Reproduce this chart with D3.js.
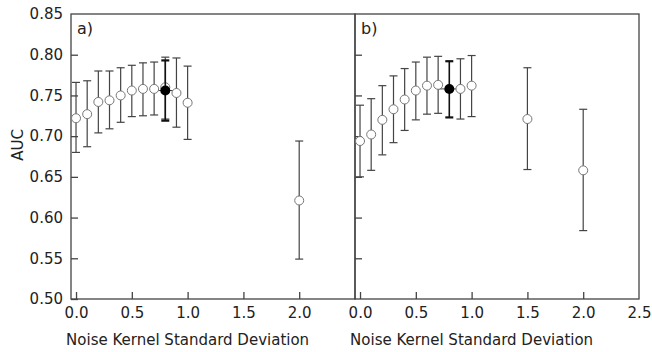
<!DOCTYPE html>
<html>
<head>
<meta charset="utf-8">
<script src="https://cdn.jsdelivr.net/npm/d3@7"></script>
<style>
  body { margin: 0; background: #fff; }
  text { font-family: "DejaVu Sans", sans-serif; fill: #222; }
</style>
</head>
<body>
<div id="chart"></div>
<script>
'use strict';

// panel a) open symbols
var sigmaA = [0.0, 0.1, 0.2, 0.3, 0.4, 0.5, 0.6, 0.7, 0.8, 0.9, 1.0, 2.0];
var aucA   = [0.722, 0.727, 0.742, 0.744, 0.750, 0.756, 0.758, 0.758, 0.760, 0.753, 0.741, 0.621];
var lowA   = [0.680, 0.687, 0.704, 0.709, 0.717, 0.724, 0.725, 0.726, 0.721, 0.711, 0.696, 0.549];
var highA  = [0.766, 0.768, 0.780, 0.780, 0.784, 0.787, 0.790, 0.791, 0.797, 0.796, 0.786, 0.694];

// panel b) open symbols
var sigmaB = [0.0, 0.1, 0.2, 0.3, 0.4, 0.5, 0.6, 0.7, 0.9, 1.0, 1.5, 2.0];
var aucB   = [0.694, 0.702, 0.720, 0.733, 0.745, 0.756, 0.762, 0.763, 0.758, 0.762, 0.721, 0.658];
var lowB   = [0.650, 0.658, 0.677, 0.692, 0.707, 0.720, 0.727, 0.728, 0.721, 0.724, 0.659, 0.584];
var highB  = [0.738, 0.746, 0.762, 0.774, 0.783, 0.791, 0.797, 0.798, 0.795, 0.799, 0.784, 0.733];

// best setting (filled symbol) in each panel
var bestSigma = [0.8, 0.8];
var bestAuc   = [0.756, 0.758];
var bestLow   = [0.719, 0.723];
var bestHigh  = [0.793, 0.792];

var panelLabels = ['a)', 'b)'];
var xTicks = [0, 0.5, 1, 1.5, 2, 2.5];
var yTicks = [0.50, 0.55, 0.60, 0.65, 0.70, 0.75, 0.80, 0.85];

var W = 652, H = 352
  , plotTop = 14, plotBottom = 299
  , panelLeft = [71, 355]
  , panelWidth = 284
  , capW = 4                 // half width of error bar caps
  , tickLen = 7;

var svg = d3.select('#chart').append('svg')
    .attr('width', W)
    .attr('height', H);

var y = d3.scaleLinear().domain([0.50, 0.85]).range([plotBottom, plotTop]);

var panels = [
  { sigma: sigmaA, auc: aucA, low: lowA, high: highA },
  { sigma: sigmaB, auc: aucB, low: lowB, high: highB }
];

panels.forEach(function (p, k) {
  var x = d3.scaleLinear().domain([-0.045, 2.5]).range([panelLeft[k], panelLeft[k] + panelWidth]);
  var g = svg.append('g');

  // frame
  g.append('rect')
    .attr('x', panelLeft[k]).attr('y', plotTop)
    .attr('width', panelWidth).attr('height', plotBottom - plotTop)
    .attr('fill', 'none').attr('stroke', '#444').attr('stroke-width', 1.3);

  // inward ticks, labels only where needed
  var xa = g.append('g')
      .attr('transform', 'translate(0,' + plotBottom + ')')
      .call(d3.axisBottom(x).tickValues(k === 0 ? xTicks.slice(0, 5) : xTicks)
        .tickSizeInner(-tickLen).tickSizeOuter(0).tickPadding(8)
        .tickFormat(d3.format('.1f')));
  xa.select('.domain').remove();
  xa.selectAll('line').attr('stroke', '#444').attr('stroke-width', 1.3);
  xa.selectAll('text').style('font-size', '15px').attr('fill', '#222');
  if (k === 1) xa.selectAll('.tick').filter(function (d) { return d === 2.5; }).select('line').remove();

  var ya = g.append('g')
      .attr('transform', 'translate(' + panelLeft[k] + ',0)')
      .call(d3.axisLeft(y).tickValues(yTicks)
        .tickSizeInner(-tickLen).tickSizeOuter(0).tickPadding(8)
        .tickFormat(k === 0 ? d3.format('.2f') : function () { return ''; }));
  ya.select('.domain').remove();
  ya.selectAll('line').attr('stroke', '#444').attr('stroke-width', 1.3);
  ya.selectAll('text').style('font-size', '15px').attr('fill', '#222');
  ya.selectAll('.tick').filter(function (d) { return d === 0.85 || (k === 1 && d === 0.50); })
    .select('line').remove();

  var idx = d3.range(p.sigma.length);

  // error bars
  var bars = g.append('g').attr('stroke', '#444').attr('stroke-width', 1.2);
  bars.selectAll('line.v').data(idx).enter().append('line')
    .attr('x1', function (i) { return x(p.sigma[i]); })
    .attr('x2', function (i) { return x(p.sigma[i]); })
    .attr('y1', function (i) { return y(p.low[i]); })
    .attr('y2', function (i) { return y(p.high[i]); });
  ['low', 'high'].forEach(function (key) {
    bars.selectAll('line.' + key).data(idx).enter().append('line')
      .attr('x1', function (i) { return x(p.sigma[i]) - capW; })
      .attr('x2', function (i) { return x(p.sigma[i]) + capW; })
      .attr('y1', function (i) { return y(p[key][i]); })
      .attr('y2', function (i) { return y(p[key][i]); });
  });

  // best setting: line through the filled symbol, then its bar
  var bx = x(bestSigma[k]);
  g.append('line')
    .attr('x1', x(bestSigma[k] - 0.1)).attr('x2', x(bestSigma[k] + 0.1))
    .attr('y1', y(bestAuc[k])).attr('y2', y(bestAuc[k]))
    .attr('stroke', '#444').attr('stroke-width', 1);

  // open symbols
  g.selectAll('circle.open').data(idx).enter().append('circle')
    .attr('cx', function (i) { return x(p.sigma[i]); })
    .attr('cy', function (i) { return y(p.auc[i]); })
    .attr('r', 4.5)
    .attr('fill', '#fff').attr('stroke', '#777').attr('stroke-width', 1);

  var best = g.append('g').attr('stroke', '#111').attr('stroke-width', 1.6);
  best.append('line').attr('x1', bx).attr('x2', bx)
    .attr('y1', y(bestLow[k])).attr('y2', y(bestHigh[k]));
  [bestLow[k], bestHigh[k]].forEach(function (v) {
    best.append('line').attr('x1', bx - capW).attr('x2', bx + capW)
      .attr('y1', y(v)).attr('y2', y(v)).attr('stroke-width', 2.2);
  });
  g.append('circle')
    .attr('cx', bx).attr('cy', y(bestAuc[k])).attr('r', 5)
    .attr('fill', '#000');

  // panel label
  g.append('text')
    .attr('x', panelLeft[k] + 6).attr('y', plotTop + 20)
    .style('font-size', '16px')
    .text(panelLabels[k]);

  // x title
  g.append('text')
    .attr('x', x(1.0)).attr('y', 345)
    .attr('text-anchor', 'middle')
    .style('font-size', '15px')
    .text('Noise Kernel Standard Deviation');
});

// y title
svg.append('text')
  .attr('transform', 'translate(23,145) rotate(-90)')
  .attr('text-anchor', 'middle')
  .style('font-size', '15px')
  .text('AUC');
</script>
</body>
</html>
